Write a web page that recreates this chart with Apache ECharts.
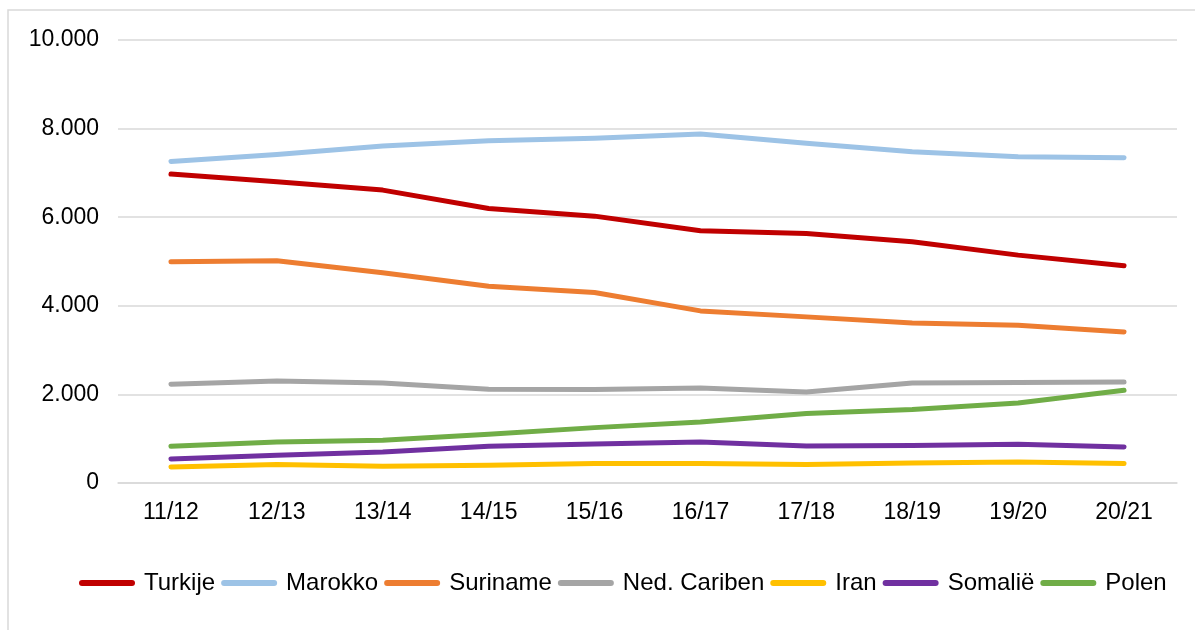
<!DOCTYPE html>
<html>
<head>
<meta charset="utf-8">
<script src="https://cdn.jsdelivr.net/npm/echarts@6/dist/echarts.min.js"></script>
<style>
html,body{margin:0;padding:0;background:#fff;}
#chart{width:1195px;height:630px;}
</style>
</head>
<body>
<div id="chart"></div>
<script>
var categories = ['11/12','12/13','13/14','14/15','15/16','16/17','17/18','18/19','19/20','20/21'];
var turkije   = [6973, 6800, 6612, 6198, 6024, 5692, 5633, 5444, 5144, 4902];
var marokko   = [7260, 7418, 7605, 7725, 7780, 7877, 7667, 7477, 7364, 7341];
var suriname  = [4992, 5015, 4744, 4443, 4301, 3885, 3750, 3614, 3562, 3411];
var nedCariben= [2230, 2304, 2259, 2117, 2110, 2146, 2056, 2259, 2268, 2281];
var iran      = [361, 416, 377, 400, 438, 438, 416, 452, 474, 438];
var somalie   = [542, 626, 700, 829, 880, 926, 836, 845, 874, 813];
var polen     = [829, 926, 965, 1100, 1250, 1378, 1567, 1658, 1807, 2094];
var yTicks = [0, 2000, 4000, 6000, 8000, 10000];

var seriesNames = ['Turkije','Marokko','Suriname','Ned. Cariben','Iran','Somalië','Polen'];
var seriesData = [turkije, marokko, suriname, nedCariben, iran, somalie, polen];
var colors = ['#C00000','#9DC3E6','#ED7D31','#A5A5A5','#FFC000','#7030A0','#70AD47'];

function fmt(v){
  return String(v).replace(/\B(?=(\d{3})+(?!\d))/g, '.');
}

var chart = echarts.init(document.getElementById('chart'), null, {renderer:'canvas'});
var option = {
  animation: false,
  backgroundColor: '#fff',
  color: colors,
  textStyle: {fontFamily: '"Liberation Sans", Arial, sans-serif'},
  graphic: [{
    type: 'rect',
    shape: {x: 8, y: 10, width: 1300, height: 700},
    style: {fill: 'none', stroke: '#D9D9D9', lineWidth: 1.5},
    silent: true
  }],
  grid: {left: 118, right: 18, top: 40, bottom: 147, containLabel: false},
  legend: {
    data: seriesNames,
    left: 74,
    top: 566,
    itemWidth: 56,
    itemHeight: 6,
    itemGap: 6,
    icon: 'path://M3,0 L53,0 A3,3 0 0 1 53,6 L3,6 A3,3 0 0 1 3,0 Z',
    textStyle: {fontSize: 24, color: '#000', fontFamily: '"Liberation Sans", Arial, sans-serif', padding: [0,0,0,4]}
  },
  xAxis: {
    type: 'category',
    data: categories,
    boundaryGap: true,
    axisLine: {show: true, lineStyle: {color: '#D9D9D9', width: 1.5}},
    axisTick: {show: false},
    axisLabel: {fontSize: 23, color: '#000', margin: 18}
  },
  yAxis: {
    type: 'value',
    min: yTicks[0],
    max: yTicks[yTicks.length-1],
    interval: 2000,
    axisLine: {show: false},
    axisTick: {show: false},
    splitLine: {lineStyle: {color: '#D9D9D9', width: 1.5}},
    axisLabel: {fontSize: 23, color: '#000', margin: 19, formatter: function(v){return fmt(v);}}
  },
  series: seriesNames.map(function(n, i){
    return {
      name: n,
      type: 'line',
      data: seriesData[i],
      symbol: 'none',
      showSymbol: false,
      lineStyle: {width: 5, color: colors[i], cap: 'round', join: 'round'},
      itemStyle: {color: colors[i]}
    };
  })
};
chart.setOption(option);
</script>
</body>
</html>
